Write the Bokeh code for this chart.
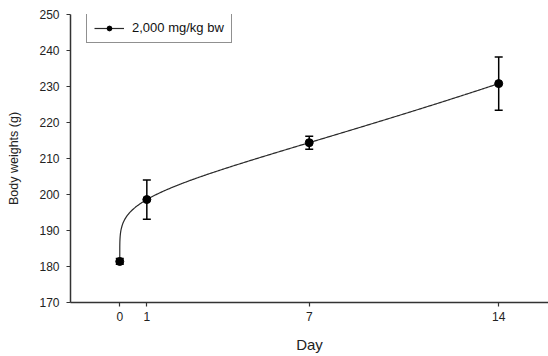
import numpy as np
from bokeh.plotting import figure
from bokeh.models import (ColumnDataSource, Range1d, FixedTicker, Whisker, TeeHead,
                          Legend, LegendItem)
from bokeh.embed import file_html
from bokeh.resources import INLINE

# ---- data ----
days = [0, 1, 7, 14]
body_weight = [181.4, 198.6, 214.4, 230.8]
sd = [0.8, 5.45, 1.8, 7.4]
series_label = "2,000 mg/kg bw"
x_ticks = [0, 1, 7, 14]
y_ticks = [170, 180, 190, 200, 210, 220, 230, 240, 250]

FONT = "Liberation Sans"

src = ColumnDataSource(data=dict(
    x=days, y=body_weight,
    lower=[v - e for v, e in zip(body_weight, sd)],
    upper=[v + e for v, e in zip(body_weight, sd)],
))

# smooth curve through the means (SigmaPlot-like fitted line)
xd = np.array(days, dtype=float)
yd = np.array(body_weight, dtype=float)
A = np.column_stack([np.ones_like(xd), xd ** 0.2, xd, xd ** 2])
coef, *_ = np.linalg.lstsq(A, yd, rcond=None)
xs = np.concatenate([np.linspace(0, 0.05, 60), np.linspace(0.05, max(days), 400)])
ys = coef[0] + coef[1] * xs ** 0.2 + coef[2] * xs + coef[3] * xs ** 2

p = figure(width=548, height=356, output_backend="svg", toolbar_location=None,
           x_range=Range1d(-1.82, 15.84), y_range=Range1d(170, 250),
           min_border_left=70, min_border_right=0, min_border_top=14,
           min_border_bottom=54)
p.outline_line_color = None
p.grid.visible = False
p.background_fill_color = "white"
p.border_fill_color = "white"

curve = p.line(xs, ys, line_color="#2a2a2a", line_width=1.2)

wh = Whisker(source=src, base="x", lower="lower", upper="upper",
             line_color="black", line_width=1.5,
             upper_head=TeeHead(size=8, line_color="black", line_width=1.5),
             lower_head=TeeHead(size=8, line_color="black", line_width=1.5))
p.add_layout(wh)

pts = p.scatter("x", "y", source=src, size=8, color="black")

for ax in (p.xaxis, p.yaxis):
    ax.axis_line_color = "#333333"
    ax.axis_line_width = 1.5
    ax.major_tick_line_color = "#333333"
    ax.major_tick_line_width = 1.2
    ax.major_tick_out = 4
    ax.major_tick_in = 0
    ax.minor_tick_line_color = None
    ax.major_label_text_font = FONT
    ax.major_label_text_font_size = "12px"
    ax.major_label_text_color = "#222222"
    ax.axis_label_text_font = FONT
    ax.axis_label_text_font_style = "normal"
    ax.axis_label_text_color = "#222222"

p.xaxis.ticker = FixedTicker(ticks=x_ticks)
p.yaxis.ticker = FixedTicker(ticks=y_ticks)
p.xaxis.axis_label = "Day"
p.yaxis.axis_label = "Body weights (g)"
p.xaxis.axis_label_text_font_size = "15px"
p.yaxis.axis_label_text_font_size = "12.5px"
p.xaxis.major_label_standoff = 5
p.yaxis.major_label_standoff = 7
p.xaxis.axis_label_standoff = 12
p.yaxis.axis_label_standoff = 15

legend = Legend(items=[LegendItem(label=series_label, renderers=[curve, pts])],
                location=(16, 259), orientation="vertical",
                glyph_width=30, glyph_height=12, label_height=12,
                label_standoff=8, padding=7, margin=0, spacing=0,
                border_line_color="#222222", border_line_width=1.2,
                label_text_font=FONT, label_text_font_size="13px",
                label_text_color="#111111", background_fill_alpha=1)
p.add_layout(legend)

open("out.html", "w").write(file_html(p, INLINE))
